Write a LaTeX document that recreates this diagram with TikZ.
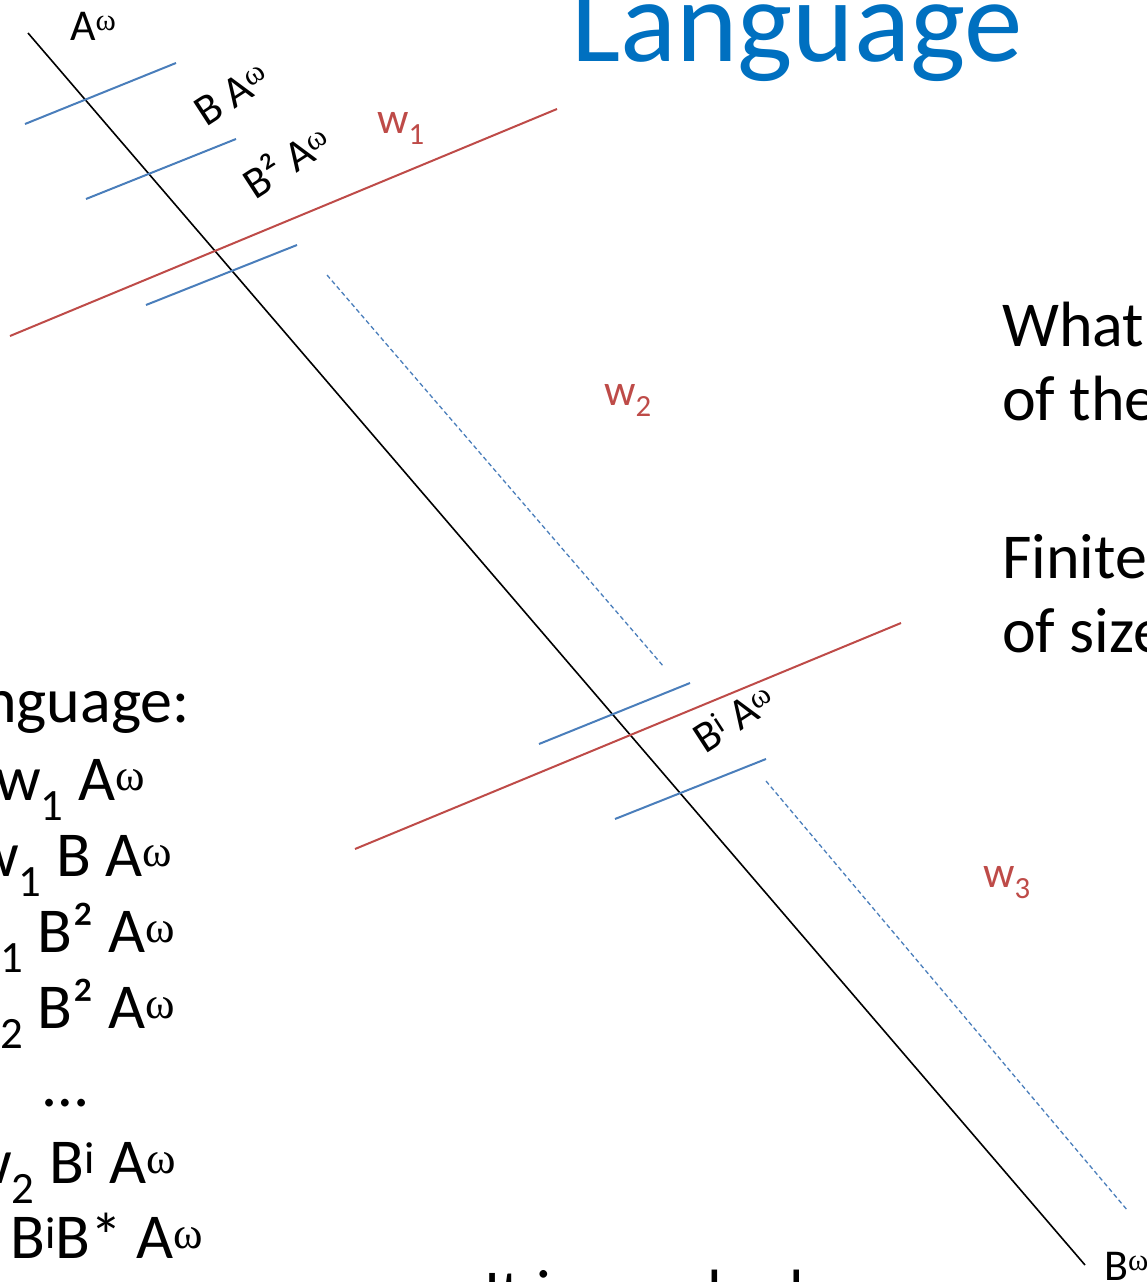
\documentclass[tikz,border=0pt]{standalone}
\usepackage{fontspec}
\setmainfont{Carlito}
\newfontfamily\omfont{Liberation Serif}

\definecolor{cutblue}{HTML}{4A7EBB}
\definecolor{wordred}{HTML}{BE4B48}
\definecolor{titleblue}{HTML}{0070C0}

\newcommand{\om}{\textsuperscript{\omfont ω}}

\tikzstyle{axis} = [draw=black, line width=1.6pt]
\tikzstyle{cut} = [draw=cutblue, line width=2pt]
\tikzstyle{split} = [draw=wordred, line width=2pt]
\tikzstyle{gap} = [draw=cutblue, line width=1.3pt, dash pattern=on 4.5pt off 3pt]
\tikzstyle{lab} = [inner sep=0pt, font=\fontsize{44}{52}\selectfont]
\tikzstyle{wlab} = [lab, anchor=base west, text=wordred]
\tikzstyle{body} = [inner sep=0pt, anchor=base west, font=\fontsize{64}{77}\selectfont]

\begin{document}
\begin{tikzpicture}[x=1pt, y=-1pt]
    \useasboundingbox (0,0) rectangle (1147,1282);
    \clip (0,0) rectangle (1147,1282);

    % the line of words from A^omega down to B^omega
    \coordinate (top) at (28,33);
    \coordinate (bot) at (1085,1265);
    \draw [axis] (top) -- (bot);
    \node (aw) [lab, anchor=base west] at (70,40) {A\om};
    \node (bw) [lab, anchor=base west] at (1104,1280) {B\om};

    % blue cuts
    \draw [cut] (25,124) -- (176,63);
    \draw [cut] (86,199) -- (236,139);
    \draw [cut] (146,305) -- (297,245);
    \draw [cut] (539,744) -- (690,683);
    \draw [cut] (615,819) -- (766,759);
    \draw [gap] (327,275) -- (664,667);
    \draw [gap] (766,781) -- (1128,1211);

    % red words
    \draw [split] (10,336) -- (557,109);
    \draw [split] (355,849) -- (901,623);
    \node (w1) [wlab] at (377,133) {w\textsubscript{1}};
    \node (w2) [wlab] at (604,405) {w\textsubscript{2}};
    \node (w3) [wlab] at (983,887) {w\textsubscript{3}};

    \node (baw) [lab, rotate=33] at (232,94) {B A\om};
    \node (bbaw) [lab, rotate=33] at (286,160) {B² A\om};
    \node (biaw) [lab, rotate=33] at (734,718) {B\textsuperscript{i} A\om};

    % title
    \node (title) [inner sep=0pt, anchor=base west, text=titleblue,
        font=\fontsize{117}{140}\selectfont] at (571,61) {Language};

    % left column
    \node (l1) [body] at (-17,722) {nguage:};
    \node (l2) [body] at (-5,800) {w\textsubscript{1} A\om};
    \node (l3) [body] at (-27,876) {w\textsubscript{1} B A\om};
    \node (l4) [body] at (0,952) {\textsubscript{1} B² A\om};
    \node (l5) [body] at (0,1028) {\textsubscript{2} B² A\om};
    \node (l6) [body] at (43,1106) {…};
    \node (l7) [body] at (-34,1183) {w\textsubscript{2} B\textsuperscript{i} A\om};
    \node (l8) [body] at (10,1258) {B\textsuperscript{i}B* A\om};

    % right column
    \node (r1) [body] at (1002,346) {What};
    \node (r2) [body] at (1002,420) {of the};
    \node (r3) [body] at (1002,578) {Finite};
    \node (r4) [body] at (1002,652) {of size};

    % bottom line
    \node (note) [body] at (484,1314) {It is regular by};
\end{tikzpicture}
\end{document}
